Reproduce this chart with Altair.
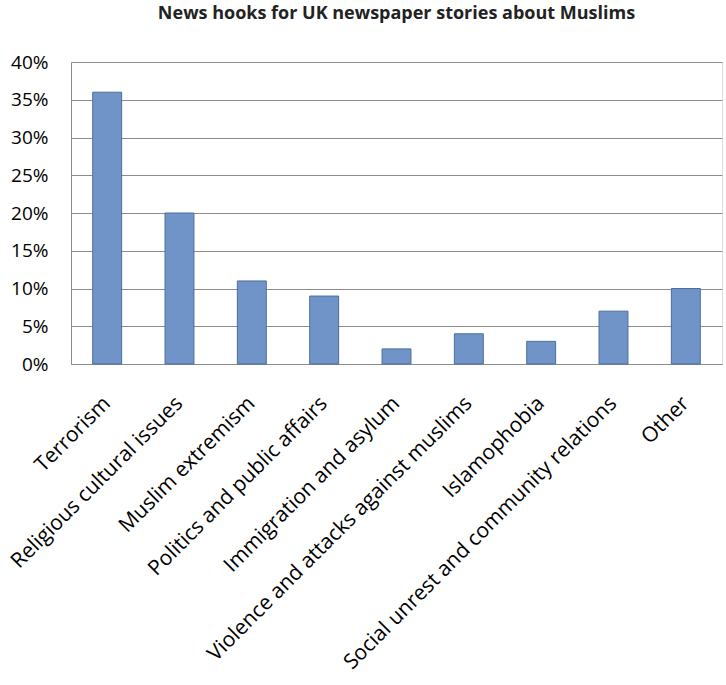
import altair as alt
import pandas as pd

categories = [
    "Terrorism",
    "Religious cultural issues",
    "Muslim extremism",
    "Politics and public affairs",
    "Immigration and asylum",
    "Violence and attacks against muslims",
    "Islamophobia",
    "Social unrest and community relations",
    "Other",
]
values = [0.36, 0.20, 0.11, 0.09, 0.02, 0.04, 0.03, 0.07, 0.10]

df = pd.DataFrame({"category": categories, "value": values})

FONT = "Open Sans"

chart = (
    alt.Chart(df)
    .mark_bar(color="#7194c8", stroke="#4b6e9f", strokeWidth=1)
    .encode(
        x=alt.X(
            "category:N",
            sort=categories,
            scale=alt.Scale(paddingInner=0.6, paddingOuter=0.3),
            axis=alt.Axis(
                title=None,
                labelAngle=-45,
                labelAlign="right",
                labelBaseline="middle",
                labelFont=FONT,
                labelFontSize=21,
                labelColor="#000000",
                labelPadding=36,
                ticks=False,
                domainColor="#8c8c8c",
                labelLimit=500,
            ),
        ),
        y=alt.Y(
            "value:Q",
            scale=alt.Scale(domain=[0, 0.4], nice=False),
            axis=alt.Axis(
                title=None,
                format=".0%",
                values=[0, 0.05, 0.1, 0.15, 0.2, 0.25, 0.3, 0.35, 0.4],
                labelFont=FONT,
                labelFontSize=19,
                labelColor="#000000",
                labelPadding=23,
                ticks=False,
                domainColor="#8c8c8c",
                gridColor="#8c8c8c",
                gridWidth=1,
            ),
        ),
    )
    .properties(
        width=651,
        height=302,
        title=alt.TitleParams(
            "News hooks for UK newspaper stories about Muslims",
            font=FONT,
            fontSize=18,
            fontWeight="bold",
            color="#222222",
            anchor="middle",
            offset=30,
        ),
        autosize=alt.AutoSizeParams(type="none"),
        padding={"left": 71, "top": 62, "right": 4, "bottom": 321},
    )
    .configure_view(fill="#ebebeb", strokeWidth=0)
    .configure(background="#ffffff")
)

chart.save("out.html", embed_options={"renderer": "svg", "actions": False})
